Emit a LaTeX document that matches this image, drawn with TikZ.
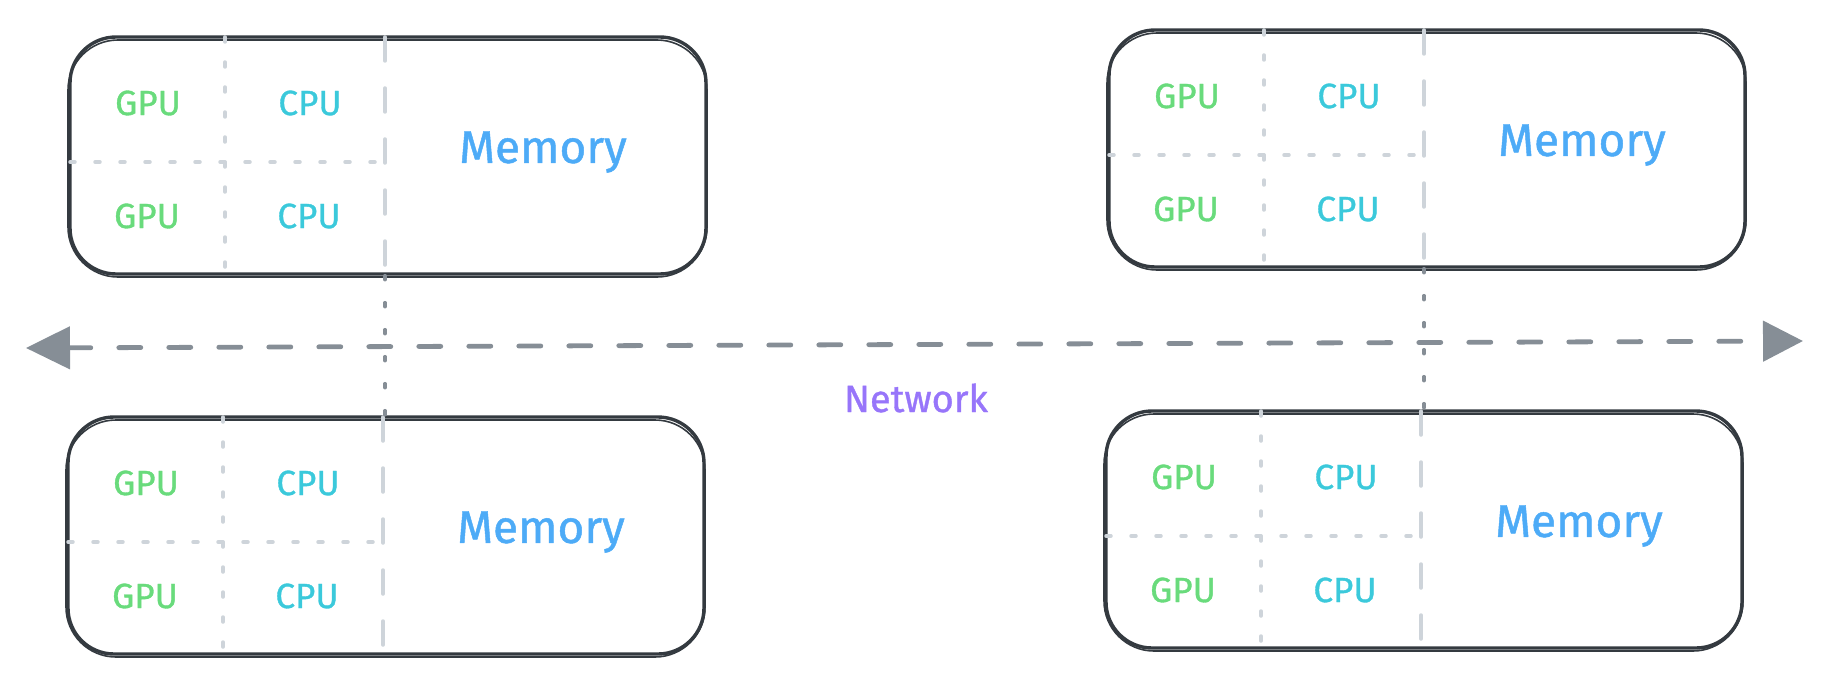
\documentclass[tikz,border=0pt]{standalone}
\usepackage{fontspec}
\setmainfont{Fira Sans}
\newfontfamily\handfont{Fira Sans}[FakeBold=1]
\usetikzlibrary{arrows.meta}
\definecolor{boxc}{RGB}{52,58,64}
\definecolor{divc}{RGB}{206,212,218}
\definecolor{arrc}{RGB}{134,142,150}
\definecolor{gpuc}{RGB}{105,219,124}
\definecolor{cpuc}{RGB}{59,201,219}
\definecolor{memc}{RGB}{77,171,247}
\definecolor{netc}{RGB}{151,117,250}
\tikzset{
  sbox/.style={draw=boxc, line width=3.4pt, rounded corners=46pt, minimum width=636pt, minimum height=237pt, inner sep=0pt},
  sketchline/.style={draw=boxc, line width=1.6pt, rounded corners=50pt},
  dotdiv/.style={draw=divc, line width=3.5pt, line cap=round, dash pattern=on 5pt off 20pt},
  dashdiv/.style={draw=divc, line width=3.5pt, line cap=round, dash pattern=on 24pt off 27pt},
  gputext/.style={text=gpuc, font=\handfont\fontsize{35}{40}\selectfont, inner sep=0pt},
  cputext/.style={text=cpuc, font=\handfont\fontsize{35}{40}\selectfont, inner sep=0pt},
  memtext/.style={text=memc, font=\handfont\fontsize{46}{52}\selectfont, inner sep=0pt},
  nettext/.style={text=netc, font=\handfont\fontsize{38}{44}\selectfont, inner sep=0pt},
  netarrow/.style={draw=arrc, line width=4.8pt, line cap=round, dash pattern=on 22pt off 28pt,
    {Triangle[length=44pt,width=42pt]}-{Triangle[length=40pt,width=40pt]}},
  linkline/.style={draw=arrc, line width=3.5pt, line cap=round, dash pattern=on 4pt off 23pt},
}
\newcommand\serverunit[3]{%
  \begin{scope}[shift={(#2,#3)}]
    \node[sbox] (#1-box) at (318,118.5) {};
    \draw[sketchline] (-2,3) rectangle (637,240);
    \coordinate (#1-v1) at (155,0);
    \coordinate (#1-v2) at (315,0);
    \draw[dotdiv] (0,125) -- (315,125);
    \draw[dotdiv] (155,0) -- (155,237);
    \draw[dashdiv] (315,0) -- (315,237);
    \node[gputext] (#1-g1) at (78,66) {GPU};
    \node[gputext] (#1-g2) at (77,179) {GPU};
    \node[cputext] (#1-c1) at (240,66) {CPU};
    \node[cputext] (#1-c2) at (239,179) {CPU};
    \node[memtext] (#1-m) at (473,115) {Memory};
  \end{scope}}
\begin{document}
\begin{tikzpicture}[x=1pt,y=-1pt]
  \useasboundingbox (0,0) rectangle (1830,690);
  \serverunit{tl}{70}{37}
  \serverunit{tr}{1109}{30}
  \serverunit{bl}{68}{417}
  \serverunit{br}{1106}{411}
  \draw[linkline] (tl-box.south -| tl-v2) -- (bl-box.north -| tl-v2);
  \draw[linkline] (tr-box.south -| tr-v2) -- (br-box.north -| tr-v2);
  \coordinate (netL) at (26,348);
  \coordinate (netR) at (1803,341);
  \draw[netarrow] (netL) -- (netR);
  \node[nettext] (net) at (916,398) {Network};
\end{tikzpicture}
\end{document}
